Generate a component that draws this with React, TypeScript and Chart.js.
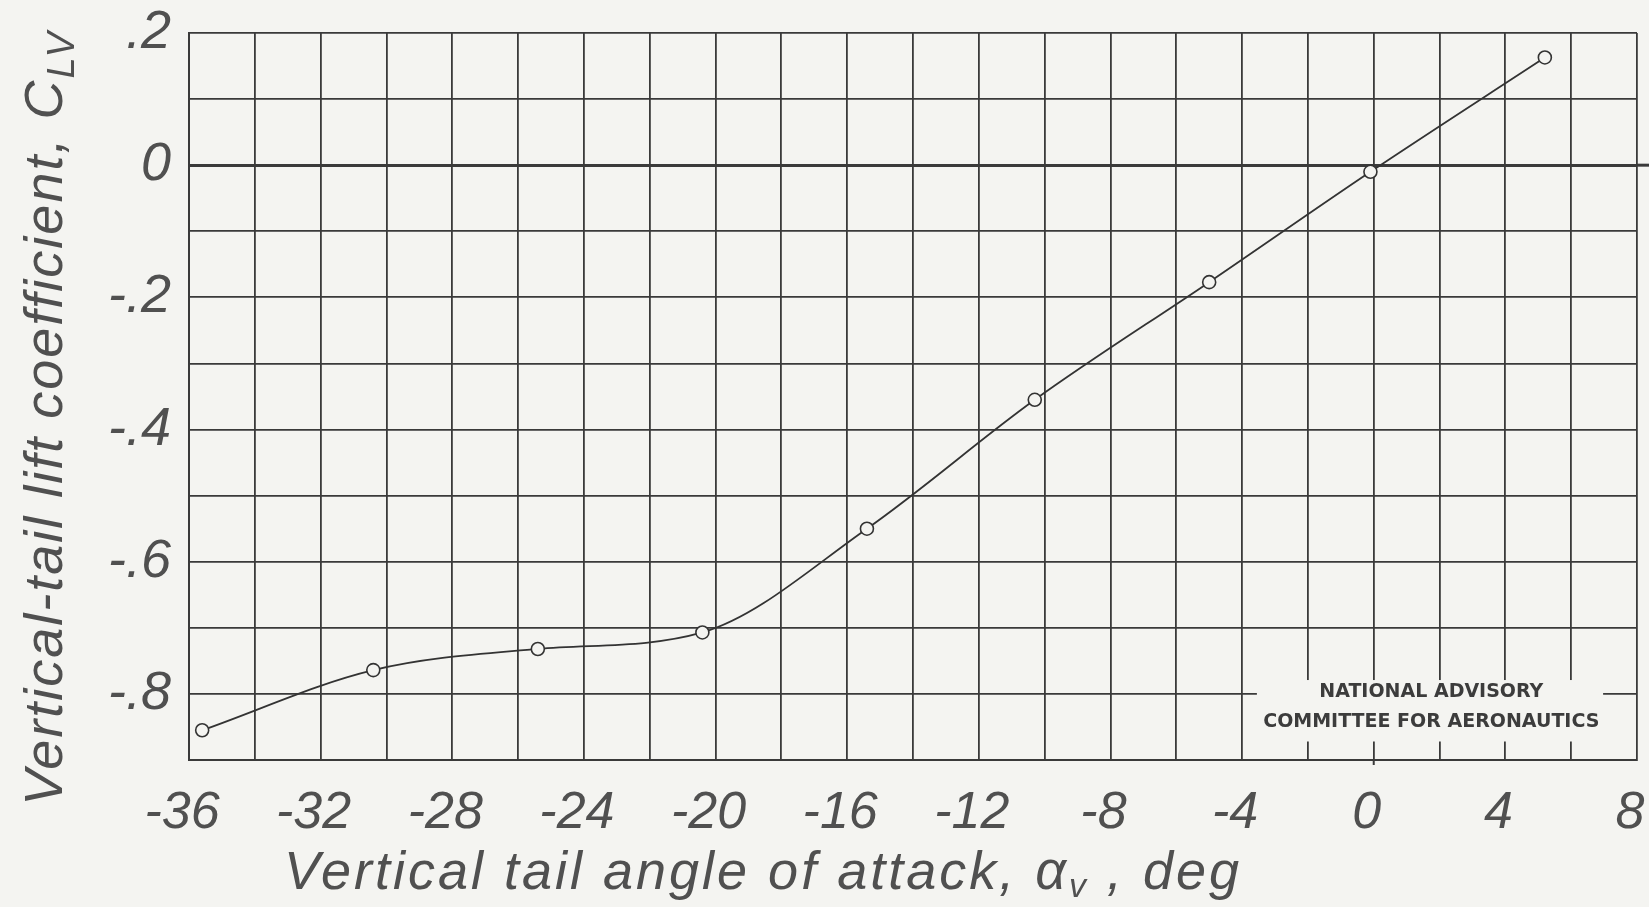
import React, { useEffect, useRef } from "react";
import { Chart, registerables } from "chart.js";

Chart.register(...registerables);

// Data
const alphaV: number[] = [-35.6, -30.4, -25.4, -20.4, -15.4, -10.3, -5.0, -0.1, 5.2];
const cLv: number[] = [-0.855, -0.764, -0.732, -0.707, -0.55, -0.355, -0.177, -0.01, 0.163];

const xMin = -36;
const xMax = 8;
const yMin = -0.9;
const yMax = 0.2;

const yTitle = "Vertical-tail lift coefficient, C";
const yTitleSub = "LV";
const xTitle = "Vertical tail angle of attack, α";
const xTitleSub = "v";
const xTitleEnd = " , deg";
const naca1 = "NATIONAL ADVISORY";
const naca2 = "COMMITTEE FOR AERONAUTICS";

const BG = "#f4f4f1";
const INK = "#3a3a3a";
const TEXT = "#505050";
const LETTER = '"Liberation Sans Narrow", "Liberation Sans", sans-serif';

const annotations = {
  id: "annotations",
  afterDraw(chart: any) {
    const ctx = chart.ctx as CanvasRenderingContext2D;
    const area = chart.chartArea;
    const xs = chart.scales.x;
    const ys = chart.scales.y;
    ctx.save();
    // zero line extension to the right
    const y0 = ys.getPixelForValue(0);
    ctx.strokeStyle = INK;
    ctx.lineWidth = 3;
    ctx.beginPath();
    ctx.moveTo(area.right, y0);
    ctx.lineTo(chart.width, y0);
    ctx.stroke();
    // small extension of x=0 line below the frame
    const x0 = xs.getPixelForValue(0);
    ctx.lineWidth = 2;
    ctx.beginPath();
    ctx.moveTo(x0, area.bottom);
    ctx.lineTo(x0, area.bottom + 5);
    ctx.stroke();

    // NACA box
    const bx0 = xs.getPixelForValue(-3.55);
    const bx1 = xs.getPixelForValue(6.97);
    const by0 = ys.getPixelForValue(-0.779);
    const by1 = ys.getPixelForValue(-0.872);
    ctx.fillStyle = BG;
    ctx.fillRect(bx0, by0, bx1 - bx0, by1 - by0);
    ctx.fillStyle = "#3c3c3c";
    ctx.font = 'bold 19px "DejaVu Sans", sans-serif';
    ctx.textAlign = "center";
    ctx.textBaseline = "middle";
    const cx = xs.getPixelForValue(1.75);
    ctx.fillText(naca1, cx, ys.getPixelForValue(-0.797));
    ctx.fillText(naca2, cx, ys.getPixelForValue(-0.843));

    // Y title (rotated) with subscript
    ctx.fillStyle = TEXT;
    ctx.textAlign = "left";
    ctx.textBaseline = "middle";
    ctx.save();
    ctx.translate(47, 418);
    ctx.rotate(-Math.PI / 2);
    (ctx as any).letterSpacing = "2px";
    const bigY = `italic 54px ${LETTER}`;
    const smallY = `italic 38px ${LETTER}`;
    ctx.font = bigY;
    const w1 = ctx.measureText(yTitle).width;
    ctx.font = smallY;
    const w2 = ctx.measureText(yTitleSub).width;
    const sx = -(w1 + w2) / 2;
    ctx.font = bigY;
    ctx.fillText(yTitle, sx, 0);
    ctx.font = smallY;
    ctx.fillText(yTitleSub, sx + w1, 16);
    ctx.restore();

    // X title with subscript
    const bigX = `italic 54px ${LETTER}`;
    const smallX = `italic 34px ${LETTER}`;
    (ctx as any).letterSpacing = "3px";
    ctx.font = bigX;
    const a = ctx.measureText(xTitle).width;
    const c = ctx.measureText(xTitleEnd).width;
    ctx.font = smallX;
    const b = ctx.measureText(xTitleSub).width;
    const tx = 763 - (a + b + c) / 2;
    const ty = 874;
    ctx.font = bigX;
    ctx.fillText(xTitle, tx, ty);
    ctx.font = smallX;
    ctx.fillText(xTitleSub, tx + a, ty + 14);
    ctx.font = bigX;
    ctx.fillText(xTitleEnd, tx + a + b, ty);
    ctx.restore();
  },
};

export default function App() {
  const ref = useRef<HTMLCanvasElement | null>(null);
  useEffect(() => {
    if (!ref.current) return;
    const pts = alphaV.map((x, i) => ({ x, y: cLv[i] }));
    const chart = new Chart(ref.current, {
      type: "line",
      data: {
        datasets: [
          {
            data: pts,
            borderColor: "#333",
            borderWidth: 1.8,
            cubicInterpolationMode: "monotone",
            pointRadius: 6.5,
            pointBorderWidth: 1.6,
            pointBorderColor: "#333",
            pointBackgroundColor: BG,
            fill: false,
          },
          {
            data: pts,
            showLine: false,
            pointRadius: 1.5,
            pointBorderWidth: 0,
            pointBackgroundColor: "#333",
          },
        ],
      },
      options: {
        responsive: false,
        animation: false,
        events: [],
        layout: { padding: { top: 33, right: 12, left: 0, bottom: 0 } },
        plugins: {
          legend: { display: false },
          tooltip: { enabled: false },
          title: { display: false },
        },
        scales: {
          x: {
            type: "linear",
            min: xMin,
            max: xMax,
            afterFit: (s: any) => {
              s.height = 147;
              s.paddingLeft = 0;
              s.paddingRight = 0;
            },
            ticks: {
              stepSize: 2,
              autoSkip: false,
              maxRotation: 0,
              padding: 22,
              labelOffset: -7,
              color: TEXT,
              font: { family: LETTER, size: 52, style: "italic" },
              callback: (v: any) => {
                const n = Math.round(Number(v));
                return n % 4 === 0 ? String(n) : "";
              },
            },
            grid: { color: INK, lineWidth: 1.8, drawTicks: false },
            border: { color: INK, width: 2 },
          },
          y: {
            type: "linear",
            min: yMin,
            max: yMax,
            afterFit: (s: any) => {
              s.width = 189;
              s.paddingTop = 0;
              s.paddingBottom = 0;
            },
            ticks: {
              stepSize: 0.1,
              autoSkip: false,
              padding: 18,
              color: TEXT,
              font: { family: LETTER, size: 54, style: "italic" },
              callback: (v: any) => {
                const n = Math.round(Number(v) * 10);
                if (n % 2 !== 0) return "";
                if (n === 0) return "0";
                const s = "." + String(Math.abs(n));
                return n < 0 ? "-" + s : s;
              },
            },
            grid: {
              color: INK,
              lineWidth: (c: any) => (c.tick && Math.abs(c.tick.value) < 1e-9 ? 3 : 1.8),
              drawTicks: false,
            },
            border: { color: INK, width: 2 },
          },
        },
      },
      plugins: [annotations],
    });
    return () => chart.destroy();
  }, []);

  return (
    <div
      style={{
        position: "absolute",
        left: 0,
        top: 0,
        width: 1649,
        height: 907,
        background: BG,
      }}
    >
      <canvas ref={ref} width={1649} height={907} style={{ display: "block" }} />
    </div>
  );
}
